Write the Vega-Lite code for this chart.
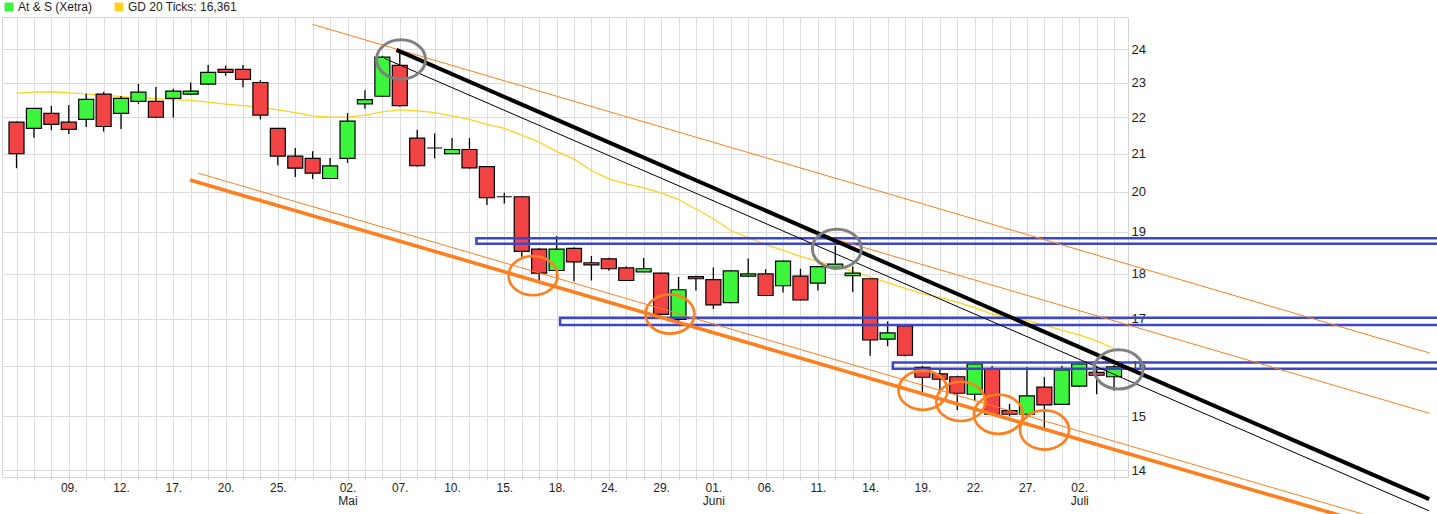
{
  "$schema": "https://vega.github.io/schema/vega-lite/v6.json",
  "width": 1126,
  "height": 460,
  "autosize": {"type": "none"},
  "padding": {"left": 2, "top": 17, "right": 309, "bottom": 37},
  "background": "white",
  "config": {
    "font": "Liberation Sans",
    "view": {"stroke": "#d4d4d4", "strokeWidth": 1},
    "axis": {"labelFont": "Liberation Sans", "labelColor": "#1e1e1e", "gridColor": "#dcdcdc", "gridWidth": 1}
  },
  "resolve": {"axis": {"x": "independent", "y": "independent"}},
  "datasets": {
    "candles": [
      {"i":0,"d":"2018-04-04","o":21.86,"h":21.88,"l":20.61,"c":21.00,"ma":22.69},
      {"i":1,"d":"2018-04-05","o":21.69,"h":22.25,"l":21.43,"c":22.25,"ma":22.72},
      {"i":2,"d":"2018-04-06","o":22.11,"h":22.32,"l":21.64,"c":21.80,"ma":22.73},
      {"i":3,"d":"2018-04-09","o":21.86,"h":22.35,"l":21.53,"c":21.66,"ma":22.70},
      {"i":4,"d":"2018-04-10","o":21.94,"h":22.67,"l":21.73,"c":22.51,"ma":22.67},
      {"i":5,"d":"2018-04-11","o":22.66,"h":22.73,"l":21.60,"c":21.74,"ma":22.63},
      {"i":6,"d":"2018-04-12","o":22.11,"h":22.61,"l":21.67,"c":22.54,"ma":22.59},
      {"i":7,"d":"2018-04-13","o":22.45,"h":22.96,"l":22.38,"c":22.72,"ma":22.56},
      {"i":8,"d":"2018-04-16","o":22.45,"h":22.87,"l":21.98,"c":22.00,"ma":22.53},
      {"i":9,"d":"2018-04-17","o":22.54,"h":22.82,"l":21.99,"c":22.75,"ma":22.50},
      {"i":10,"d":"2018-04-18","o":22.66,"h":23.00,"l":22.64,"c":22.75,"ma":22.48},
      {"i":11,"d":"2018-04-19","o":22.95,"h":23.52,"l":22.93,"c":23.30,"ma":22.43},
      {"i":12,"d":"2018-04-20","o":23.39,"h":23.50,"l":23.20,"c":23.30,"ma":22.37},
      {"i":13,"d":"2018-04-23","o":23.39,"h":23.52,"l":22.86,"c":23.09,"ma":22.33},
      {"i":14,"d":"2018-04-24","o":23.00,"h":23.07,"l":21.94,"c":22.06,"ma":22.28},
      {"i":15,"d":"2018-04-25","o":21.69,"h":21.70,"l":20.69,"c":20.93,"ma":22.21},
      {"i":16,"d":"2018-04-26","o":20.93,"h":21.15,"l":20.38,"c":20.61,"ma":22.13},
      {"i":17,"d":"2018-04-27","o":20.87,"h":21.06,"l":20.33,"c":20.48,"ma":22.04},
      {"i":18,"d":"2018-04-30","o":20.34,"h":20.88,"l":20.33,"c":20.67,"ma":22.00},
      {"i":19,"d":"2018-05-02","o":20.87,"h":22.12,"l":20.75,"c":21.89,"ma":22.00},
      {"i":20,"d":"2018-05-03","o":22.38,"h":22.77,"l":22.24,"c":22.50,"ma":22.06},
      {"i":21,"d":"2018-05-04","o":22.60,"h":23.80,"l":22.58,"c":23.76,"ma":22.15},
      {"i":22,"d":"2018-05-07","o":23.51,"h":23.98,"l":22.30,"c":22.33,"ma":22.21},
      {"i":23,"d":"2018-05-08","o":21.42,"h":21.65,"l":20.65,"c":20.68,"ma":22.18},
      {"i":24,"d":"2018-05-09","o":21.15,"h":21.55,"l":20.87,"c":21.15,"ma":22.13},
      {"i":25,"d":"2018-05-10","o":21.00,"h":21.42,"l":21.00,"c":21.11,"ma":22.04},
      {"i":26,"d":"2018-05-11","o":21.11,"h":21.42,"l":20.60,"c":20.62,"ma":21.94},
      {"i":27,"d":"2018-05-14","o":20.65,"h":20.66,"l":19.66,"c":19.85,"ma":21.80},
      {"i":28,"d":"2018-05-15","o":19.87,"h":19.97,"l":19.70,"c":19.87,"ma":21.69},
      {"i":29,"d":"2018-05-16","o":19.87,"h":19.88,"l":18.40,"c":18.53,"ma":21.50},
      {"i":30,"d":"2018-05-17","o":18.58,"h":18.60,"l":17.83,"c":18.02,"ma":21.31},
      {"i":31,"d":"2018-05-18","o":18.08,"h":18.90,"l":17.85,"c":18.58,"ma":21.06},
      {"i":32,"d":"2018-05-22","o":18.60,"h":18.62,"l":17.83,"c":18.28,"ma":20.85},
      {"i":33,"d":"2018-05-23","o":18.26,"h":18.42,"l":17.85,"c":18.21,"ma":20.55},
      {"i":34,"d":"2018-05-24","o":18.35,"h":18.38,"l":18.08,"c":18.12,"ma":20.33},
      {"i":35,"d":"2018-05-25","o":18.14,"h":18.18,"l":17.84,"c":17.85,"ma":20.20},
      {"i":36,"d":"2018-05-28","o":18.05,"h":18.37,"l":18.04,"c":18.12,"ma":20.10},
      {"i":37,"d":"2018-05-29","o":18.02,"h":18.03,"l":17.07,"c":17.09,"ma":19.97},
      {"i":38,"d":"2018-05-30","o":16.98,"h":17.93,"l":16.94,"c":17.64,"ma":19.80},
      {"i":39,"d":"2018-05-31","o":17.94,"h":17.96,"l":17.62,"c":17.89,"ma":19.56},
      {"i":40,"d":"2018-06-01","o":17.87,"h":18.15,"l":17.21,"c":17.30,"ma":19.32},
      {"i":41,"d":"2018-06-04","o":17.35,"h":18.08,"l":17.34,"c":18.07,"ma":19.03},
      {"i":42,"d":"2018-06-05","o":17.95,"h":18.36,"l":17.93,"c":18.00,"ma":18.86},
      {"i":43,"d":"2018-06-06","o":18.00,"h":18.11,"l":17.50,"c":17.51,"ma":18.69},
      {"i":44,"d":"2018-06-07","o":17.73,"h":18.31,"l":17.58,"c":18.30,"ma":18.55},
      {"i":45,"d":"2018-06-08","o":17.95,"h":18.12,"l":17.40,"c":17.41,"ma":18.41},
      {"i":46,"d":"2018-06-11","o":17.79,"h":18.18,"l":17.62,"c":18.17,"ma":18.29},
      {"i":47,"d":"2018-06-12","o":18.15,"h":18.66,"l":18.09,"c":18.23,"ma":18.19},
      {"i":48,"d":"2018-06-13","o":17.96,"h":18.17,"l":17.59,"c":18.02,"ma":18.06},
      {"i":49,"d":"2018-06-14","o":17.89,"h":17.90,"l":16.21,"c":16.54,"ma":17.93},
      {"i":50,"d":"2018-06-15","o":16.56,"h":16.94,"l":16.41,"c":16.69,"ma":17.80},
      {"i":51,"d":"2018-06-18","o":16.84,"h":16.85,"l":16.20,"c":16.22,"ma":17.67},
      {"i":52,"d":"2018-06-19","o":15.97,"h":16.00,"l":15.41,"c":15.77,"ma":17.55},
      {"i":53,"d":"2018-06-20","o":15.84,"h":15.92,"l":15.45,"c":15.73,"ma":17.47},
      {"i":54,"d":"2018-06-21","o":15.78,"h":15.80,"l":15.12,"c":15.45,"ma":17.36},
      {"i":55,"d":"2018-06-22","o":15.43,"h":16.05,"l":15.30,"c":16.04,"ma":17.24},
      {"i":56,"d":"2018-06-25","o":15.93,"h":16.00,"l":15.03,"c":15.04,"ma":17.10},
      {"i":57,"d":"2018-06-26","o":15.11,"h":15.24,"l":15.00,"c":15.04,"ma":17.03},
      {"i":58,"d":"2018-06-27","o":15.04,"h":15.98,"l":15.03,"c":15.40,"ma":16.96},
      {"i":59,"d":"2018-06-28","o":15.57,"h":15.77,"l":14.77,"c":15.22,"ma":16.86},
      {"i":60,"d":"2018-06-29","o":15.23,"h":16.00,"l":15.22,"c":15.92,"ma":16.75},
      {"i":61,"d":"2018-07-02","o":15.59,"h":16.06,"l":15.58,"c":16.04,"ma":16.65},
      {"i":62,"d":"2018-07-03","o":15.87,"h":16.00,"l":15.43,"c":15.81,"ma":16.52},
      {"i":63,"d":"2018-07-04","o":15.78,"h":16.02,"l":15.50,"c":15.98,"ma":16.361}
    ],
    "lines": [
      {"line":"bk","i":21.81,"v":23.98},{"line":"bk","i":81.09,"v":13.49},
      {"line":"bt","i":21.13,"v":23.72},{"line":"bt","i":81.09,"v":13.29},
      {"line":"o1","i":16.98,"v":24.78},{"line":"o1","i":81.09,"v":16.27},
      {"line":"o2","i":45.23,"v":19.04},{"line":"o2","i":81.09,"v":15.06},
      {"line":"o3","i":10.43,"v":20.48},{"line":"o3","i":81.09,"v":12.91},
      {"line":"ok","i":9.96,"v":20.30},{"line":"ok","i":81.09,"v":12.78}
    ],
    "zones": [
      {"i":26.4,"i2":90,"lo":18.71,"hi":18.84},
      {"i":31.2,"i2":90,"lo":16.86,"hi":17.02},
      {"i":50.3,"i2":90,"lo":15.94,"hi":16.07}
    ],
    "circles": [
      {"kind":"gray","i":22.07,"v":23.69},
      {"kind":"gray","i":47.09,"v":18.59},
      {"kind":"gray","i":63.26,"v":15.93},
      {"kind":"orange","i":29.65,"v":17.96},
      {"kind":"orange","i":37.51,"v":17.10},
      {"kind":"orange","i":52.03,"v":15.51},
      {"kind":"orange","i":54.2,"v":15.29},
      {"kind":"orange","i":56.36,"v":15.04},
      {"kind":"orange","i":59.01,"v":14.74}
    ]
  },
  "layer": [
    {
      "data": {"name": "candles"},
      "mark": {"type": "line", "strokeWidth": 1.3},
      "encoding": {
        "x": {"field": "i", "type": "quantitative",
          "scale": {"domain": [-0.546, 63.514], "nice": false, "zero": false},
          "axis": {"title": null,
            "values": [0,1,2,3,4,5,6,7,8,9,10,11,12,13,14,15,16,17,18,19,20,21,22,23,24,25,26,27,28,29,30,31,32,33,34,35,36,37,38,39,40,41,42,43,44,45,46,47,48,49,50,51,52,53,54,55,56,57,58,59,60,61,62,63],
            "labelExpr": "['','','','09.','','','12.','','','17.','','','20.','','','25.','','','',['02.','Mai'],'','','07.','','','10.','','','15.','','','18.','','','24.','','','29.','','',['01.','Juni'],'','','06.','','','11.','','','14.','','','19.','','','22.','','','27.','','',['02.','Juli'],'',''][datum.value]",
            "grid": true, "domain": false, "ticks": true, "tickColor": "#d0d0d0", "tickSize": 3,
            "labelFontSize": 12, "labelPadding": 2, "labelLineHeight": 13,
            "labelOverlap": false, "labelFlush": false, "labelBound": false}},
        "y": {"field": "ma", "type": "quantitative",
          "scale": {"type": "log", "domain": [13.879, 25.013], "nice": false, "zero": false},
          "axis": {"title": null, "orient": "right", "values": [14,15,16,17,18,19,20,21,22,23,24],
            "format": ".0f", "grid": true, "domain": false, "ticks": false, "tickSize": 0,
            "labelFontSize": 13, "labelPadding": 3, "labelAlign": "left", "labelBaseline": "middle"}},
        "color": {"datum": "GD 20 Ticks: 16,361", "type": "nominal",
          "scale": {"domain": ["At & S (Xetra)", "GD 20 Ticks: 16,361"], "range": ["#3ef53e", "#ffd21f"]},
          "legend": {"orient": "none", "legendX": 1, "legendY": -16, "direction": "horizontal", "columns": 2,
            "title": null, "symbolType": "square", "symbolSize": 64, "symbolStrokeWidth": 1,
            "labelFontSize": 12, "labelFont": "Liberation Sans", "labelColor": "#1e1e1e", "labelOffset": 3,
            "columnPadding": 20, "padding": 0,
            "encode": {"symbols": {"update": {"fill": {"scale": "color", "field": "value"}, "stroke": {"value": "#111111"}, "strokeWidth": {"value": 1}, "opacity": {"value": 1}}}}}}
      }
    },
    {
      "data": {"name": "candles"},
      "mark": {"type": "rule", "color": "#000000", "strokeWidth": 1.3},
      "encoding": {
        "x": {"field": "i", "type": "quantitative", "axis": null},
        "y": {"field": "l", "type": "quantitative", "axis": null},
        "y2": {"field": "h"}
      }
    },
    {
      "data": {"name": "candles"},
      "mark": {"type": "bar", "size": 15, "stroke": "#000000", "strokeWidth": 1.2},
      "encoding": {
        "x": {"field": "i", "type": "quantitative", "axis": null},
        "y": {"field": "o", "type": "quantitative", "axis": null},
        "y2": {"field": "c"},
        "fill": {"condition": {"test": "datum.c >= datum.o", "value": "#3ef53e"}, "value": "#f24444"}
      }
    },
    {
      "data": {"name": "zones"},
      "mark": {"type": "rect", "filled": false, "stroke": "#3c46c8", "strokeWidth": 2.5},
      "encoding": {
        "x": {"field": "i", "type": "quantitative", "axis": null},
        "x2": {"field": "i2"},
        "y": {"field": "lo", "type": "quantitative", "axis": null},
        "y2": {"field": "hi"}
      }
    },
    {
      "data": {"name": "lines"},
      "transform": [{"filter": "indexof(['o1','o2','o3'], datum.line) >= 0"}],
      "mark": {"type": "line", "color": "#ff7f1e", "strokeWidth": 1},
      "encoding": {
        "x": {"field": "i", "type": "quantitative", "axis": null},
        "y": {"field": "v", "type": "quantitative", "axis": null},
        "detail": {"field": "line"}
      }
    },
    {
      "data": {"name": "lines"},
      "transform": [{"filter": "datum.line == 'ok'"}],
      "mark": {"type": "line", "color": "#ff7f1e", "strokeWidth": 3.6},
      "encoding": {
        "x": {"field": "i", "type": "quantitative", "axis": null},
        "y": {"field": "v", "type": "quantitative", "axis": null}
      }
    },
    {
      "data": {"name": "lines"},
      "transform": [{"filter": "datum.line == 'bt'"}],
      "mark": {"type": "line", "color": "#000000", "strokeWidth": 1},
      "encoding": {
        "x": {"field": "i", "type": "quantitative", "axis": null},
        "y": {"field": "v", "type": "quantitative", "axis": null}
      }
    },
    {
      "data": {"name": "lines"},
      "transform": [{"filter": "datum.line == 'bk'"}],
      "mark": {"type": "line", "color": "#000000", "strokeWidth": 4},
      "encoding": {
        "x": {"field": "i", "type": "quantitative", "axis": null},
        "y": {"field": "v", "type": "quantitative", "axis": null}
      }
    },
    {
      "data": {"name": "circles"},
      "transform": [{"filter": "datum.kind == 'orange'"}],
      "mark": {"type": "point", "filled": false, "shape": "M-1,0A1,0.8 0 1,1 1,0A1,0.8 0 1,1 -1,0Z", "size": 2401, "stroke": "#ff7f1e", "strokeWidth": 2.6, "opacity": 1},
      "encoding": {
        "x": {"field": "i", "type": "quantitative", "axis": null},
        "y": {"field": "v", "type": "quantitative", "axis": null}
      }
    },
    {
      "data": {"name": "circles"},
      "transform": [{"filter": "datum.kind == 'gray'"}],
      "mark": {"type": "point", "filled": false, "shape": "M-1,0A1,0.8 0 1,1 1,0A1,0.8 0 1,1 -1,0Z", "size": 2401, "stroke": "#808080", "strokeWidth": 3, "opacity": 1},
      "encoding": {
        "x": {"field": "i", "type": "quantitative", "axis": null},
        "y": {"field": "v", "type": "quantitative", "axis": null}
      }
    }
  ]
}
